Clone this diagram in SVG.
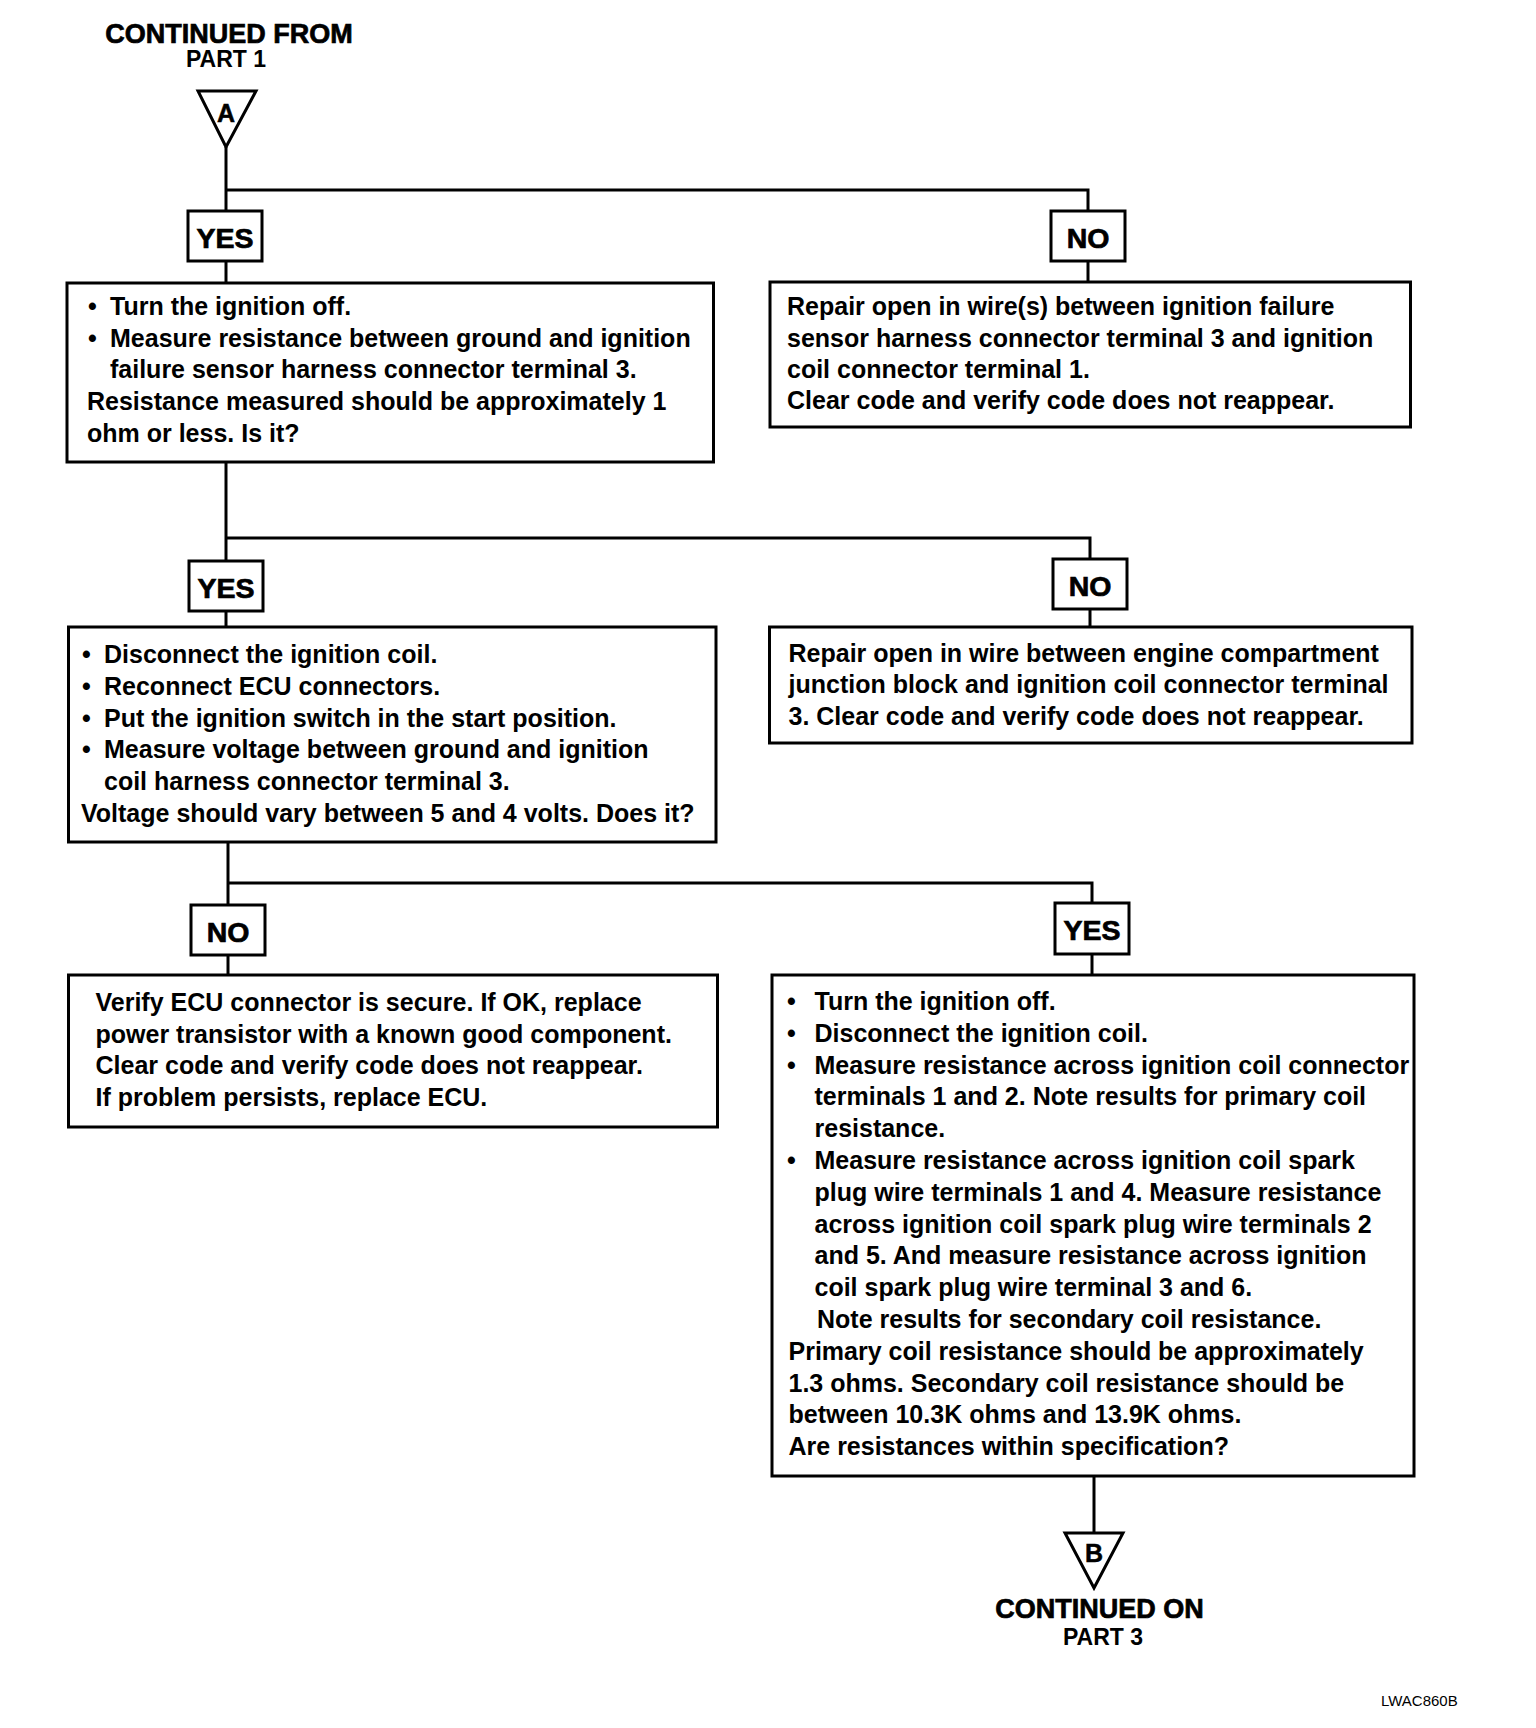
<svg xmlns="http://www.w3.org/2000/svg" width="1536" height="1728" viewBox="0 0 1536 1728">
<style>
  .bg{fill:#fff}
  .box{fill:#fff;stroke:#000;stroke-width:3}
  .lbl{fill:#fff;stroke:#000;stroke-width:3}
  .tri{fill:#fff;stroke:#000;stroke-width:3;stroke-linejoin:miter}
  .con{fill:none;stroke:#000;stroke-width:3}
  .t{font-family:"Liberation Sans",Arial,sans-serif;font-weight:bold;font-size:25px;fill:#000}
  .h{font-family:"Liberation Sans",Arial,sans-serif;font-weight:bold;font-size:27px;fill:#000;stroke:#000;stroke-width:0.7;text-anchor:middle}
  .p{font-family:"Liberation Sans",Arial,sans-serif;font-weight:bold;font-size:23px;fill:#000;text-anchor:middle}
  .yn{font-family:"Liberation Sans",Arial,sans-serif;font-weight:bold;font-size:28.5px;fill:#000;stroke:#000;stroke-width:0.7;text-anchor:middle}
  .tl{font-family:"Liberation Sans",Arial,sans-serif;font-weight:bold;font-size:25px;fill:#000;stroke:#000;stroke-width:0.5;text-anchor:middle}
  .id{font-family:"Liberation Sans",Arial,sans-serif;font-size:15px;fill:#000}
</style>
<rect class="bg" x="0" y="0" width="1536" height="1728"/>

<g id="connectors">
  <polyline class="con" points="226,147 226,211"/>
  <polyline class="con" points="226,190 1088,190 1088,211"/>
  <polyline class="con" points="226,261 226,283"/>
  <polyline class="con" points="1088,261 1088,282"/>
  <polyline class="con" points="226,462 226,561"/>
  <polyline class="con" points="226,538 1090,538 1090,559"/>
  <polyline class="con" points="226,611 226,627"/>
  <polyline class="con" points="1090,609 1090,627"/>
  <polyline class="con" points="228,842 228,905"/>
  <polyline class="con" points="228,883 1092,883 1092,903"/>
  <polyline class="con" points="228,955 228,975"/>
  <polyline class="con" points="1092,954 1092,975"/>
  <polyline class="con" points="1094,1476 1094,1533"/>
</g>

<g id="start">
  <text class="h" x="229" y="43">CONTINUED FROM</text>
  <text class="p" x="226" y="67">PART 1</text>
  <polygon class="tri" points="198,91 256,91 226,147"/>
  <text class="tl" x="226" y="122">A</text>
</g>

<g id="yes1">
  <rect class="lbl" x="188" y="211" width="74" height="50"/>
  <text class="yn" x="225" y="248">YES</text>
</g>
<g id="no1">
  <rect class="lbl" x="1051" y="211" width="74" height="50"/>
  <text class="yn" x="1088" y="248">NO</text>
</g>

<g id="step1">
  <rect class="box" x="67" y="283" width="646.5" height="179"/>
  <text class="t" x="88" y="315">•</text>
  <text class="t" x="110" y="315">Turn the ignition off.</text>
  <text class="t" x="88" y="347">•</text>
  <text class="t" x="110" y="347">Measure resistance between ground and ignition</text>
  <text class="t" x="110" y="378">failure sensor harness connector terminal 3.</text>
  <text class="t" x="87" y="410">Resistance measured should be approximately 1</text>
  <text class="t" x="87" y="442">ohm or less. Is it?</text>
</g>

<g id="repair1">
  <rect class="box" x="770" y="282" width="640.5" height="145"/>
  <text class="t" x="787" y="315">Repair open in wire(s) between ignition failure</text>
  <text class="t" x="787" y="347">sensor harness connector terminal 3 and ignition</text>
  <text class="t" x="787" y="378">coil connector terminal 1.</text>
  <text class="t" x="787" y="409">Clear code and verify code does not reappear.</text>
</g>

<g id="yes2">
  <rect class="lbl" x="189" y="561" width="74" height="50"/>
  <text class="yn" x="226" y="598">YES</text>
</g>
<g id="no2">
  <rect class="lbl" x="1053" y="559" width="74" height="50"/>
  <text class="yn" x="1090" y="596">NO</text>
</g>

<g id="step2">
  <rect class="box" x="68.5" y="627" width="647.5" height="215"/>
  <text class="t" x="82" y="663">•</text>
  <text class="t" x="104" y="663">Disconnect the ignition coil.</text>
  <text class="t" x="82" y="695">•</text>
  <text class="t" x="104" y="695">Reconnect ECU connectors.</text>
  <text class="t" x="82" y="727">•</text>
  <text class="t" x="104" y="727">Put the ignition switch in the start position.</text>
  <text class="t" x="82" y="758">•</text>
  <text class="t" x="104" y="758">Measure voltage between ground and ignition</text>
  <text class="t" x="104" y="790">coil harness connector terminal 3.</text>
  <text class="t" x="81" y="822">Voltage should vary between 5 and 4 volts. Does it?</text>
</g>

<g id="repair2">
  <rect class="box" x="769.5" y="627" width="642.5" height="116"/>
  <text class="t" x="788.5" y="662">Repair open in wire between engine compartment</text>
  <text class="t" x="788.5" y="693">junction block and ignition coil connector terminal</text>
  <text class="t" x="788.5" y="725">3. Clear code and verify code does not reappear.</text>
</g>

<g id="no3">
  <rect class="lbl" x="191" y="905" width="74" height="50"/>
  <text class="yn" x="228" y="942">NO</text>
</g>
<g id="yes3">
  <rect class="lbl" x="1055" y="903" width="74" height="51"/>
  <text class="yn" x="1092" y="940">YES</text>
</g>

<g id="replace">
  <rect class="box" x="68.5" y="975" width="649" height="152"/>
  <text class="t" x="95.5" y="1011">Verify ECU connector is secure. If OK, replace</text>
  <text class="t" x="95.5" y="1043">power transistor with a known good component.</text>
  <text class="t" x="95.5" y="1074">Clear code and verify code does not reappear.</text>
  <text class="t" x="95.5" y="1106">If problem persists, replace ECU.</text>
</g>

<g id="step3">
  <rect class="box" x="772" y="975" width="642" height="501"/>
  <text class="t" x="787" y="1010">•</text>
  <text class="t" x="814.5" y="1010">Turn the ignition off.</text>
  <text class="t" x="787" y="1042">•</text>
  <text class="t" x="814.5" y="1042">Disconnect the ignition coil.</text>
  <text class="t" x="787" y="1074">•</text>
  <text class="t" x="814.5" y="1074">Measure resistance across ignition coil connector</text>
  <text class="t" x="814.5" y="1105">terminals 1 and 2. Note results for primary coil</text>
  <text class="t" x="814.5" y="1137">resistance.</text>
  <text class="t" x="787" y="1169">•</text>
  <text class="t" x="814.5" y="1169">Measure resistance across ignition coil spark</text>
  <text class="t" x="814.5" y="1201">plug wire terminals 1 and 4. Measure resistance</text>
  <text class="t" x="814.5" y="1233">across ignition coil spark plug wire terminals 2</text>
  <text class="t" x="814.5" y="1264">and 5. And measure resistance across ignition</text>
  <text class="t" x="814.5" y="1296">coil spark plug wire terminal 3 and 6.</text>
  <text class="t" x="817" y="1328">Note results for secondary coil resistance.</text>
  <text class="t" x="788.5" y="1360">Primary coil resistance should be approximately</text>
  <text class="t" x="788.5" y="1392">1.3 ohms. Secondary coil resistance should be</text>
  <text class="t" x="788.5" y="1423">between 10.3K ohms and 13.9K ohms.</text>
  <text class="t" x="788.5" y="1455">Are resistances within specification?</text>
</g>

<g id="end">
  <polygon class="tri" points="1065,1533 1123,1533 1094,1588"/>
  <text class="tl" x="1094" y="1562">B</text>
  <text class="h" x="1099.5" y="1618">CONTINUED ON</text>
  <text class="p" x="1103" y="1645">PART 3</text>
</g>

<text class="id" x="1381" y="1706">LWAC860B</text>
</svg>
